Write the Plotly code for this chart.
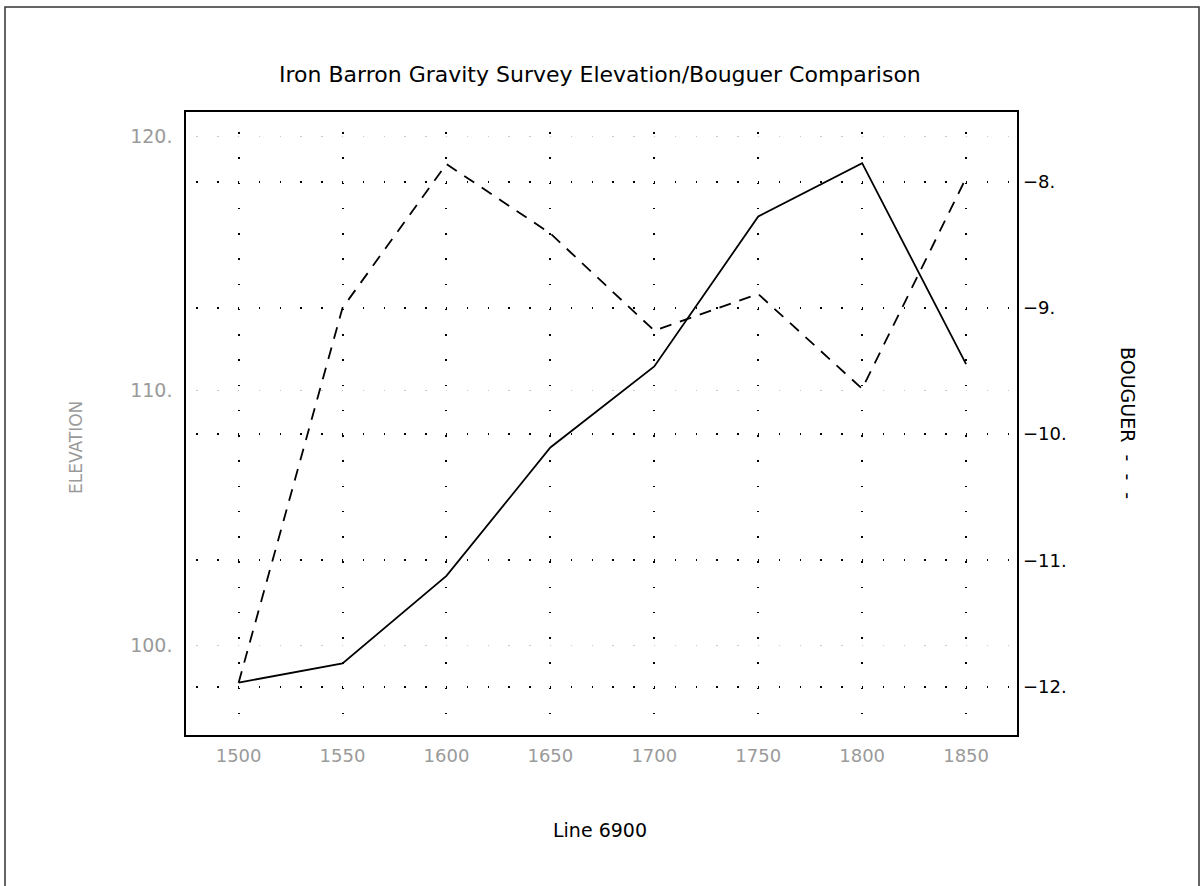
import plotly.graph_objects as go

# ---- data ----
stations = [1500, 1550, 1600, 1650, 1700, 1750, 1800, 1850]
elevation = [98.52, 99.28, 102.72, 107.77, 110.96, 116.86, 118.96, 111.05]
bouguer = [-11.97, -9.00, -7.86, -8.41, -9.18, -8.89, -9.64, -7.97]

x_ticks = [1500, 1550, 1600, 1650, 1700, 1750, 1800, 1850]
x_ticktext = ["1500", "1550", "1600", "1650", "1700", "1750", "1800", "1850"]
elev_ticks = [100, 110, 120]
elev_ticktext = ["100.", "110.", "120."]
boug_ticks = [-12, -11, -10, -9, -8]
boug_ticktext = ["\u221212.", "\u221211.", "\u221210.", "\u22129.", "\u22128."]

title_text = "Iron Barron Gravity Survey Elevation/Bouguer Comparison"
x_title = "Line 6900"
y_title = "ELEVATION"
y2_title = "BOUGUER\u00a0\u00a0-\u00a0\u00a0-\u00a0\u00a0-"

# ---- layout geometry (page pixels) ----
W, H = 1200, 886
L, R, T, B = 186, 1017, 112, 735
pw, ph = R - L, B - T


def px(x):
    return (x - L) / pw


def py(y):
    return (B - y) / ph


FONT = "DejaVu Sans"
GREY = "#9a9a9a"

fig = go.Figure()
fig.add_trace(go.Scatter(x=stations, y=elevation, mode="lines",
                         line=dict(color="black", width=1.8),
                         yaxis="y", showlegend=False))
fig.add_trace(go.Scatter(x=stations, y=bouguer, mode="lines",
                         line=dict(color="black", width=1.8, dash="12px,9px"),
                         yaxis="y2", showlegend=False))

fig.update_layout(
    width=W, height=H,
    margin=dict(l=L, r=W - R, t=T, b=H - B, pad=0),
    paper_bgcolor="white", plot_bgcolor="white",
    showlegend=False,
    xaxis=dict(range=[1474.7, 1874.5], tickvals=x_ticks, ticktext=x_ticktext,
               showgrid=True, gridcolor="black", gridwidth=1.5,
               griddash="0px,20px,1.5px,3.75px",
               showline=True, linecolor="black", linewidth=1.5, mirror=True,
               ticks="", zeroline=False, ticklabelstandoff=4,
               tickfont=dict(family=FONT, size=18, color=GREY)),
    yaxis=dict(range=[96.46, 120.97], tickvals=elev_ticks, ticktext=elev_ticktext,
               showgrid=True, gridcolor="#c8c8c8", gridwidth=1.2,
               griddash="0px,10.3px,1.5px,9px",
               showline=True, linecolor="black", linewidth=1.5, mirror=True,
               ticks="", zeroline=False, ticklabelstandoff=8,
               tickfont=dict(family=FONT, size=19, color=GREY)),
    yaxis2=dict(range=[-12.383, -7.448], tickvals=boug_ticks, ticktext=boug_ticktext,
                overlaying="y", side="right",
                showgrid=True, gridcolor="black", gridwidth=1.5,
                griddash="0px,10.3px,1.5px,9px",
                showline=False, ticks="", zeroline=False, ticklabelstandoff=5,
                tickfont=dict(family=FONT, size=18, color="black")),
)

annos = [
    dict(text=title_text, x=px(600), y=py(74), font=dict(family=FONT, size=22, color="black")),
    dict(text=x_title, x=px(600), y=py(830), font=dict(family=FONT, size=19, color="black")),
    dict(text=y_title, x=px(76), y=py(448), textangle=-90, font=dict(family=FONT, size=17, color=GREY)),
    dict(text=y2_title, x=px(1128), y=py(423), textangle=90, font=dict(family=FONT, size=19, color="black")),
]
for a in annos:
    fig.add_annotation(xref="paper", yref="paper", xanchor="center", yanchor="middle",
                       showarrow=False, **a)

# outer frame
fig.add_shape(type="rect", xref="paper", yref="paper",
              x0=px(5), x1=px(1199), y0=py(900), y1=py(7),
              line=dict(color="#333333", width=1.5), layer="below")

fig.write_html("out.html", config={"displayModeBar": False},
               post_script="document.body.style.margin='0';document.body.style.overflow='hidden';")
